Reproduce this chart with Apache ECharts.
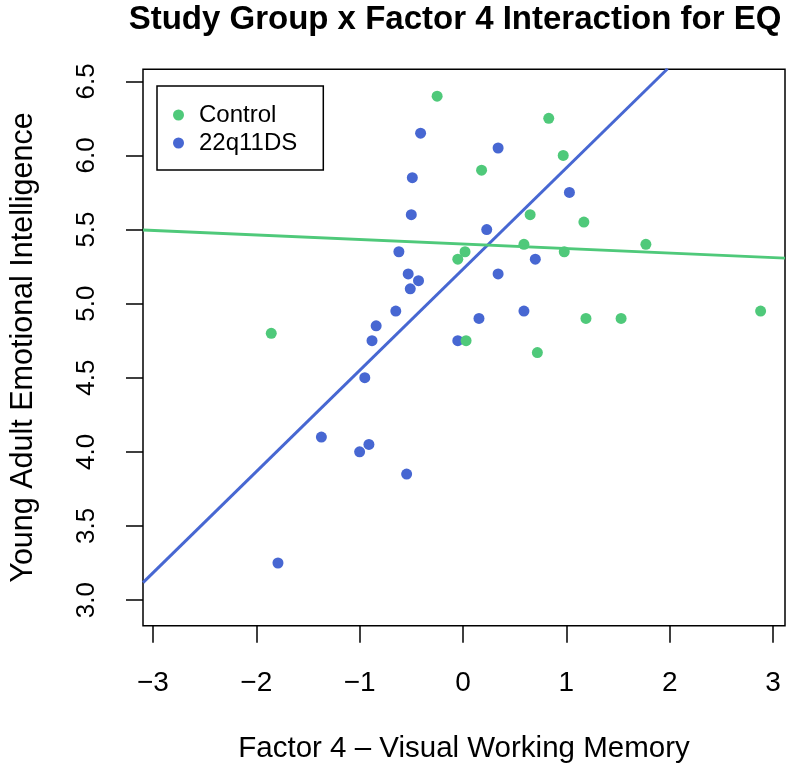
<!DOCTYPE html>
<html>
<head>
<meta charset="utf-8">
<script src="https://cdn.jsdelivr.net/npm/echarts@6/dist/echarts.min.js"></script>
<style>html,body{margin:0;padding:0;background:#fff;}#c{width:800px;height:769px;}</style>
</head>
<body>
<div id="c"></div>
<script>
const titleText = "Study Group x Factor 4 Interaction for EQ";
const xName = "Factor 4 \u2013 Visual Working Memory";
const yName = "Young Adult Emotional Intelligence";
const groupNames = ["Control", "22q11DS"];

const controlX = [-0.25, 0.83, 0.97, 0.18, 0.65, 1.17, 0.59, 1.77, 0.02, -0.05, 0.98, -1.855, 0.03, 1.19, 1.53, 2.88, 0.72];
const controlY = [6.40, 6.25, 6.00, 5.90, 5.60, 5.55, 5.40, 5.40, 5.35, 5.30, 5.35, 4.80, 4.75, 4.90, 4.90, 4.95, 4.67];

const dsX = [-0.41, -0.49, -0.50, -0.62, -0.53, -0.43, -0.51, -0.65, -0.84, -0.88, -0.05, 0.34, 1.03, 0.23, 0.70, 0.34, 0.59, 0.155, -0.95, -1.37, -0.91, -1.00, -0.545, -1.79];
const dsY = [6.15, 5.85, 5.60, 5.35, 5.20, 5.155, 5.10, 4.95, 4.85, 4.75, 4.75, 6.05, 5.75, 5.50, 5.30, 5.20, 4.95, 4.90, 4.50, 4.10, 4.05, 4.00, 3.85, 3.25];

// fitted regression lines, endpoints
const controlLineX = [-3.096, 3.116];
const controlLineY = [5.496, 5.307];
const dsLineX = [-3.096, 1.98];
const dsLineY = [3.118, 6.585];

const xTicks = [-3, -2, -1, 0, 1, 2, 3];
const yTicks = [3.0, 3.5, 4.0, 4.5, 5.0, 5.5, 6.0, 6.5];

const green = '#4FC97A';
const blue = '#4767D2';
const font = '"Liberation Sans", Arial, Helvetica, sans-serif';

const zip = (a, b) => a.map((v, i) => [v, b[i]]);

const chart = echarts.init(document.getElementById('c'), null, {renderer: 'canvas'});
chart.setOption({
  animation: false,
  backgroundColor: '#fff',
  textStyle: {fontFamily: font},
  title: {
    text: titleText,
    left: 450, top: -2, textAlign: 'center',
    textStyle: {fontFamily: font, fontSize: 33, fontWeight: 'bold', color: '#000'}
  },
  legend: {
    orient: 'vertical',
    left: 157, top: 86,
    padding: [17, 26, 15, 16],
    itemGap: 4,
    itemWidth: 11, itemHeight: 11,
    borderColor: '#000', borderWidth: 1.5,
    icon: 'circle',
    data: groupNames,
    textStyle: {fontFamily: font, fontSize: 24, color: '#000', lineHeight: 24, padding: [0, 0, 0, 10]}
  },
  grid: {
    left: 137.7, top: 69.3, right: 15, bottom: 143.3,
    show: true, borderColor: '#000', borderWidth: 1.5, backgroundColor: '#fff'
  },
  xAxis: {
    type: 'value', min: -3.096, max: 3.116,
    name: xName, nameLocation: 'middle', nameGap: 108,
    nameTextStyle: {fontFamily: font, fontSize: 29.5, color: '#000'},
    axisLine: {show: false, onZero: false},
    splitLine: {show: false},
    axisTick: {show: true, inside: false, length: 17, lineStyle: {color: '#000', width: 1.5}, customValues: xTicks},
    axisLabel: {margin: 44, fontFamily: font, fontSize: 28, color: '#000', customValues: xTicks,
      formatter: v => (v < 0 ? '\u2212' + Math.abs(v) : String(v))}
  },
  yAxis: {
    type: 'value', min: 2.827, max: 6.581,
    name: yName, nameLocation: 'middle', nameGap: 104, nameRotate: 90,
    nameTextStyle: {fontFamily: font, fontSize: 30.5, color: '#000'},
    axisLine: {show: false, onZero: false},
    splitLine: {show: false},
    axisTick: {show: true, inside: false, length: 17, lineStyle: {color: '#000', width: 1.5}, customValues: yTicks},
    axisLabel: {margin: 43, rotate: 90, fontFamily: font, fontSize: 26, color: '#000', customValues: yTicks,
      formatter: v => v.toFixed(1)}
  },
  series: [
    {
      name: groupNames[1], type: 'scatter', symbolSize: 11, z: 2,
      itemStyle: {color: blue, opacity: 1},
      data: zip(dsX, dsY)
    },
    {
      name: groupNames[0], type: 'scatter', symbolSize: 11, z: 3,
      itemStyle: {color: green, opacity: 1},
      data: zip(controlX, controlY)
    },
    {
      type: 'line', showSymbol: false, symbol: 'none', clip: true, z: 4,
      lineStyle: {color: blue, width: 3}, silent: true,
      data: zip(dsLineX, dsLineY)
    },
    {
      type: 'line', showSymbol: false, symbol: 'none', clip: true, z: 4,
      lineStyle: {color: green, width: 3}, silent: true,
      data: zip(controlLineX, controlLineY)
    }
  ]
});
</script>
</body>
</html>
